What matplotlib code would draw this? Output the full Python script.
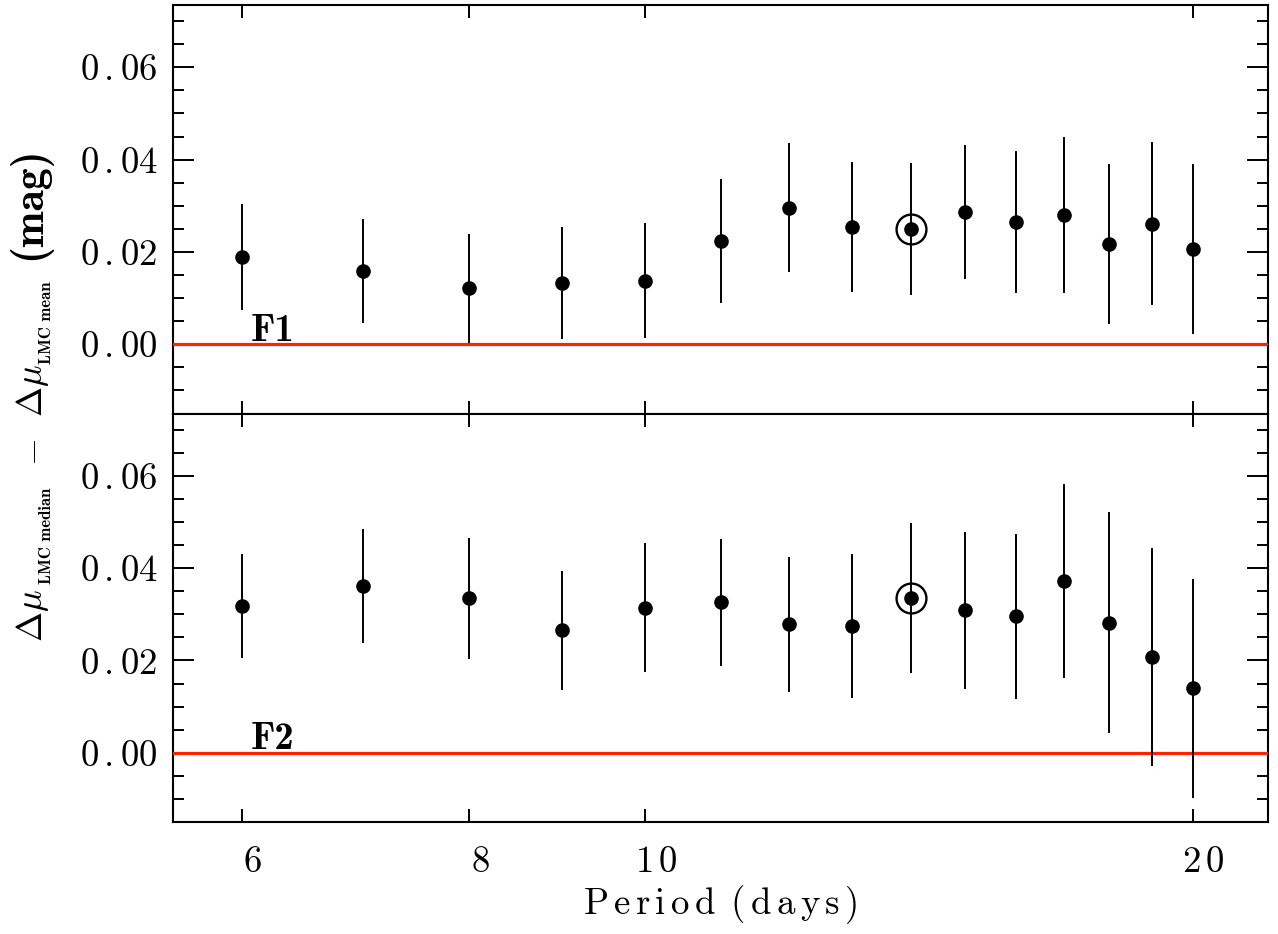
import numpy as np
import matplotlib
matplotlib.use('Agg')
import matplotlib.pyplot as plt
from matplotlib.ticker import FixedLocator, MultipleLocator, NullLocator, FixedFormatter
from matplotlib.transforms import ScaledTranslation

# Periods (days) and offsets
period = [6, 7, 8, 9, 10, 11, 12, 13, 14, 15, 16, 17, 18, 19, 20]
f1_val = [0.0189, 0.0159, 0.0121, 0.0133, 0.0138, 0.0224, 0.0296, 0.0254,
          0.0250, 0.0286, 0.0264, 0.0280, 0.0217, 0.0261, 0.0207]
f1_err = [0.0114, 0.0113, 0.0118, 0.0121, 0.0125, 0.0134, 0.0139, 0.0140,
          0.0143, 0.0145, 0.0154, 0.0170, 0.0174, 0.0177, 0.0184]
f2_val = [0.0318, 0.0361, 0.0335, 0.0265, 0.0314, 0.0326, 0.0278, 0.0275,
          0.0335, 0.0309, 0.0296, 0.0372, 0.0282, 0.0207, 0.0140]
f2_err = [0.0113, 0.0123, 0.0131, 0.0128, 0.0140, 0.0138, 0.0146, 0.0156,
          0.0163, 0.0170, 0.0179, 0.0211, 0.0240, 0.0236, 0.0237]
highlight_period = 14
panel_names = ['F1', 'F2']
xtick_vals = [6, 8, 10, 20]
ytick_vals = [0.00, 0.02, 0.04, 0.06]
ytick_labels = ['0.00', '0.02', '0.04', '0.06']

plt.rcParams['font.family'] = 'cmr10'
plt.rcParams['mathtext.fontset'] = 'cm'
plt.rcParams['axes.unicode_minus'] = False


def spaced(s):
    # IDL-style letter spacing via mathtext thin spaces
    parts = []
    for word in s.split(' '):
        parts.append(r'\,'.join(word))
    return r'$\mathrm{' + r'\ \,'.join(parts) + '}$'


def ytick_fmt(s):
    # a little air around the decimal point (mathtext adds the space after it)
    return r'$\mathrm{' + s.replace('.', r'\,.') + '}$'


W, H = 1278, 934
fig = plt.figure(figsize=(W / 100, H / 100), dpi=100)
gs = fig.add_gridspec(2, 1, left=173/W, right=1268/W, top=1-5/H,
                      bottom=1-822/H, hspace=0)
axes = [fig.add_subplot(gs[0]), fig.add_subplot(gs[1])]

data = [(f1_val, f1_err), (f2_val, f2_err)]
hi = period.index(highlight_period)

for i, ax in enumerate(axes):
    vals, errs = data[i]
    ax.axhline(0, color='#ff2200', lw=2.3, zorder=2.6)
    ax.errorbar(period, vals, yerr=errs, fmt='o', color='k', ms=9.5,
                elinewidth=1.4, capsize=0, zorder=3)
    ax.plot(period[hi], vals[hi], 'o', mfc='none', mec='k', ms=21.5, mew=1.7, zorder=4)
    ax.text(6.07, 0.0008, panel_names[i], family='cmb10', fontsize=28,
            va='baseline', ha='left')

    ax.set_xscale('log')
    ax.set_xlim(5.5, 22)
    ax.set_ylim(-0.015, 0.0735)
    ax.xaxis.set_major_locator(FixedLocator(xtick_vals))
    ax.xaxis.set_minor_locator(NullLocator())
    ax.xaxis.set_major_formatter(FixedFormatter([spaced(str(v)) for v in xtick_vals]))
    ax.yaxis.set_major_locator(FixedLocator(ytick_vals))
    ax.yaxis.set_major_formatter(FixedFormatter([ytick_fmt(t) for t in ytick_labels]))
    ax.yaxis.set_minor_locator(MultipleLocator(0.005))
    ax.tick_params(axis='both', which='both', direction='in', top=True, right=True,
                   width=1.4, labelsize=26.5)
    ax.tick_params(axis='x', which='major', length=9.5, pad=17)
    ax.tick_params(axis='y', which='major', length=15, pad=11)
    ax.tick_params(axis='y', which='minor', length=8)
    for sp in ax.spines.values():
        sp.set_linewidth(1.5)

axes[0].tick_params(axis='x', labelbottom=False)
offset = ScaledTranslation(0.11, 0, fig.dpi_scale_trans)
for lab in axes[1].get_xticklabels():
    lab.set_transform(lab.get_transform() + offset)

axes[1].set_xlabel(spaced('Period (days)'), fontsize=26.5, labelpad=3)

# y label assembled from pieces (rotated, reading upwards), pixel anchors
ylabel_pieces = [
    (r'$\Delta\mu$', 42, 642, 26, 'cmr10'),
    ('LMC median', 51, 584, 12, 'cmb10'),
    (r'$-$', 42, 466, 26, 'cmr10'),
    (r'$\Delta\mu$', 42, 417, 26, 'cmr10'),
    ('LMC mean', 51, 364, 12, 'cmb10'),
    ('(mag)', 40, 260, 31.5, 'cmb10'),
]
for txt, px, py, size, fam in ylabel_pieces:
    fig.text(px / W, 1 - py / H, txt, rotation=90, rotation_mode='anchor',
             ha='left', va='baseline', fontsize=size, family=fam)

fig.savefig('out.png', dpi=100)
